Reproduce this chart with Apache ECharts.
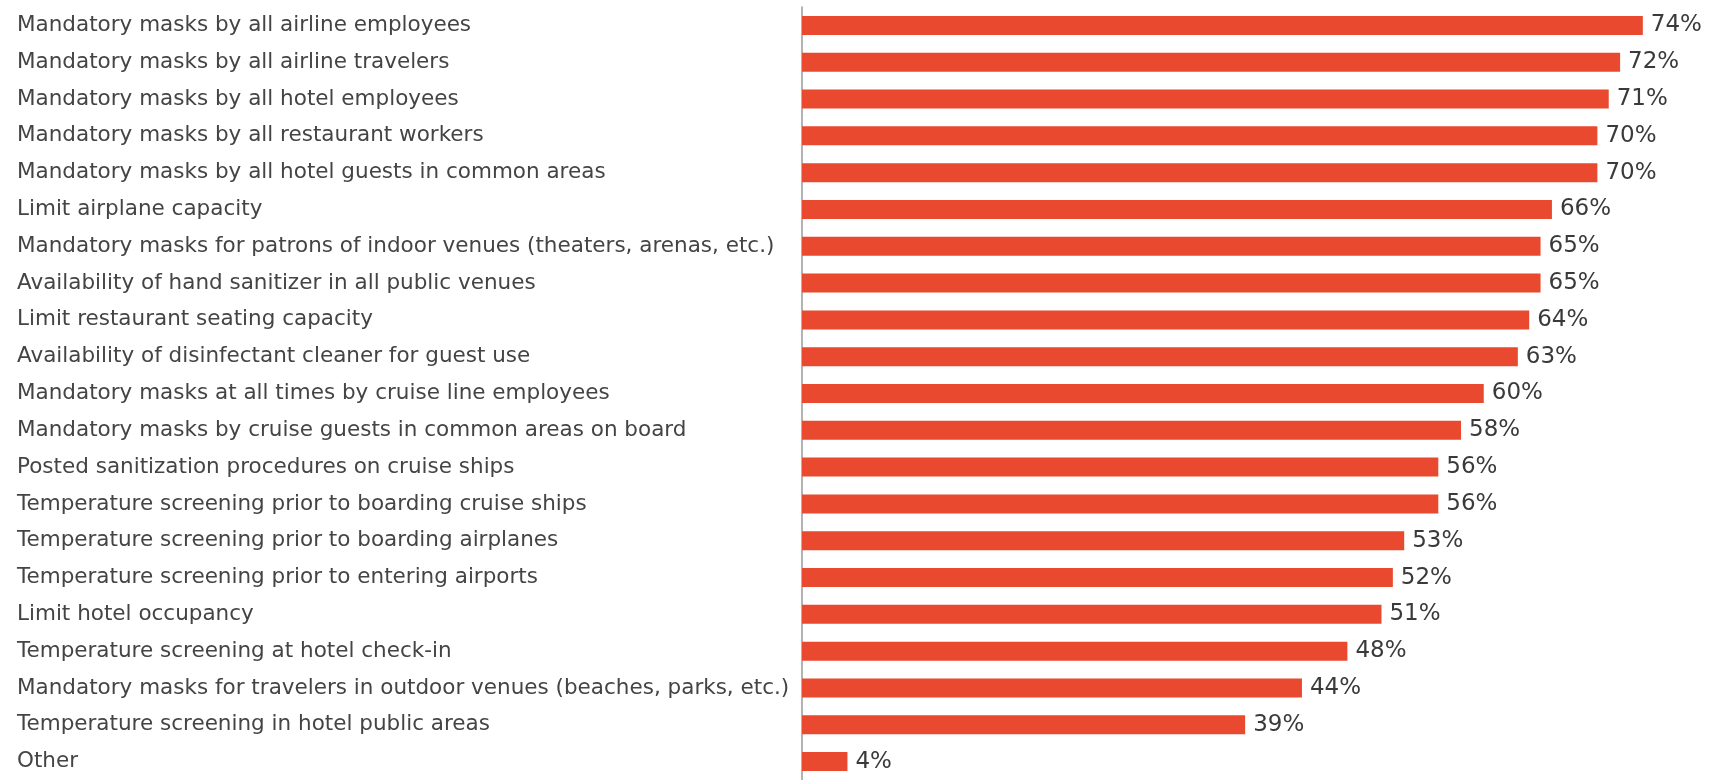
<!DOCTYPE html>
<html>
<head>
<meta charset="utf-8">
<script src="https://cdn.jsdelivr.net/npm/echarts@6/dist/echarts.min.js"></script>
<style>
  html, body { margin: 0; padding: 0; background: #ffffff; }
  #chart { width: 1711px; height: 780px; }
</style>
</head>
<body>
<div id="chart"></div>
<script>
// Support for travel safety measures (share of respondents)
const categories = [
  'Mandatory masks by all airline employees',
  'Mandatory masks by all airline travelers',
  'Mandatory masks by all hotel employees',
  'Mandatory masks by all restaurant workers',
  'Mandatory masks by all hotel guests in common areas',
  'Limit airplane capacity',
  'Mandatory masks for patrons of indoor venues (theaters, arenas, etc.)',
  'Availability of hand sanitizer in all public venues',
  'Limit restaurant seating capacity',
  'Availability of disinfectant cleaner for guest use',
  'Mandatory masks at all times by cruise line employees',
  'Mandatory masks by cruise guests in common areas on board',
  'Posted sanitization procedures on cruise ships',
  'Temperature screening prior to boarding cruise ships',
  'Temperature screening prior to boarding airplanes',
  'Temperature screening prior to entering airports',
  'Limit hotel occupancy',
  'Temperature screening at hotel check-in',
  'Mandatory masks for travelers in outdoor venues (beaches, parks, etc.)',
  'Temperature screening in hotel public areas',
  'Other'
];
const values = [74, 72, 71, 70, 70, 66, 65, 65, 64, 63, 60, 58, 56, 56, 53, 52, 51, 48, 44, 39, 4];

const chart = echarts.init(document.getElementById('chart'), null, { renderer: 'canvas' });
chart.setOption({
  animation: false,
  backgroundColor: '#ffffff',
  grid: { left: 802, right: 0, top: 7, height: 780, containLabel: false },
  xAxis: {
    type: 'value',
    min: 0,
    max: 80,
    show: false
  },
  yAxis: {
    type: 'category',
    data: categories,
    inverse: true,
    axisLine: { show: true, lineStyle: { color: '#9a9a9a', width: 1.5 } },
    axisTick: { show: false },
    axisLabel: {
      align: 'left',
      margin: 785,
      color: '#444444',
      fontFamily: 'DejaVu Sans',
      fontSize: 21.5
    }
  },
  series: [{
    type: 'bar',
    data: values,
    barWidth: 19,
    itemStyle: { color: '#E8492F' },
    label: {
      show: true,
      position: 'right',
      distance: 8,
      formatter: '{c}%',
      color: '#3a3a3a',
      fontFamily: 'DejaVu Sans',
      fontSize: 23
    }
  }]
});
</script>
</body>
</html>
